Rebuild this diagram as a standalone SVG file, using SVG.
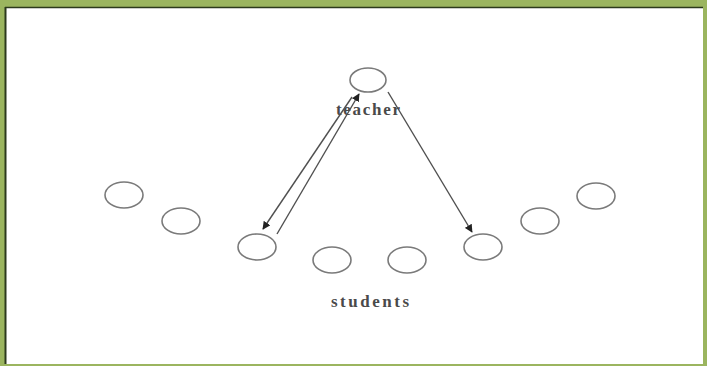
<svg xmlns="http://www.w3.org/2000/svg" width="707" height="366" viewBox="0 0 707 366">
<style>
.n ellipse{fill:none;stroke:#7a7a7a;stroke-width:1.6}
.lbl{font-family:"Liberation Serif",serif;font-weight:bold;font-size:17px;fill:#4a4a4a}
.e line{stroke:#505050;stroke-width:1.4}
</style>
<defs>
<marker id="ah" viewBox="0 0 10 10" refX="9" refY="5" markerWidth="8" markerHeight="8" markerUnits="userSpaceOnUse" orient="auto">
<path d="M0,0 L10,5 L0,10 z" fill="#222"/>
</marker>
</defs>
<rect x="0" y="0" width="707" height="366" fill="#9bb55f"/>
<rect x="5" y="7" width="698" height="357" fill="#ffffff"/>
<line x1="5" y1="7.5" x2="703" y2="7.5" stroke="#2c3a1c" stroke-width="1.5"/>
<line x1="5.5" y1="7" x2="5.5" y2="364" stroke="#2c3a1c" stroke-width="2"/>
<g id="teacher" class="n"><ellipse cx="368" cy="80" rx="18" ry="12"/><text class="lbl" x="368" y="115" text-anchor="middle" textLength="64" lengthAdjust="spacing">teacher</text></g>
<g id="s1" class="n"><ellipse cx="124" cy="195" rx="19" ry="13"/></g>
<g id="s2" class="n"><ellipse cx="181" cy="221" rx="19" ry="13"/></g>
<g id="s3" class="n"><ellipse cx="257" cy="247" rx="19" ry="13"/></g>
<g id="s4" class="n"><ellipse cx="332" cy="260" rx="19" ry="13"/></g>
<g id="s5" class="n"><ellipse cx="407" cy="260" rx="19" ry="13"/></g>
<g id="s6" class="n"><ellipse cx="483" cy="247" rx="19" ry="13"/></g>
<g id="s7" class="n"><ellipse cx="540" cy="221" rx="19" ry="13"/></g>
<g id="s8" class="n"><ellipse cx="596" cy="196" rx="19" ry="13"/></g>
<text id="students" class="lbl" x="370" y="307" text-anchor="middle" textLength="78" lengthAdjust="spacing">students</text>
<g id="edges" class="e">
<line x1="352" y1="97" x2="263" y2="229" marker-end="url(#ah)"/>
<line x1="277" y1="234" x2="359" y2="94" marker-end="url(#ah)"/>
<line x1="388" y1="92" x2="472" y2="232" marker-end="url(#ah)"/>
</g>
</svg>
